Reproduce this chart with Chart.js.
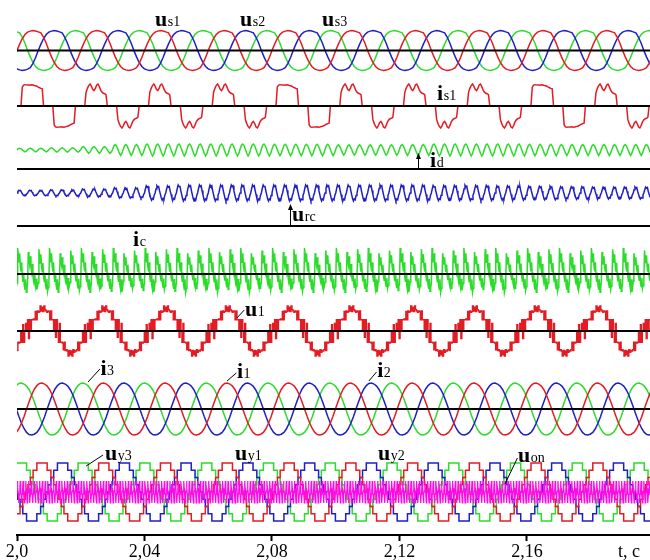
<!DOCTYPE html>
<html>
<head>
<meta charset="utf-8">
<script src="https://cdn.jsdelivr.net/npm/chart.js@4/dist/chart.umd.min.js"></script>
<style>
  html, body { margin: 0; padding: 0; background: #fff; }
</style>
</head>
<body>
<canvas id="osc" width="650" height="560"></canvas>
<script>
// ---- time axis, s ----
const T_START = 2.0;
const T_END = 2.1986;
const TICK_VALUES = [2.0, 2.04, 2.08, 2.12, 2.16, 2.192];
const TICK_LABELS = ['2,0', '2,04', '2,08', '2,12', '2,16', 't, c'];

// ---- frequencies, Hz ----
const F_SUPPLY = 50;
const F_OUTPUT = 51.6;
const F_RIPPLE = 300;
const F_PWM = 1150;

// rising zero of us1 and of the output phase 1, s
const SUPPLY_T0 = 2.0;
const OUTPUT_T0 = 2.003;

// supply voltage, one period from the rising zero, p.u.
const US_PERIOD = [0.00, 0.32, 0.60, 0.80, 0.92, 0.97, 1.00, 0.97, 0.93, 0.88, 0.66, 0.36,
                   0.00, -0.32, -0.60, -0.80, -0.92, -0.97, -1.00, -0.98, -0.93, -0.86, -0.64, -0.35];

// supply current, one half period (120 deg block), two top forms
const IS_PULSE_FLAT = [0, 0, 0, 0, 0.86, 0.95, 0.97, 0.96, 0.95, 0.95, 0.94, 0.96,
                       0.95, 0.93, 0.92, 0.90, 0.86, 0.83, 0.80, 0.78, 0, 0, 0, 0];
const IS_PULSE_M = [0, 0, 0, 0, 0.62, 0.80, 0.93, 1.00, 0.90, 0.76, 0.70, 0.80,
                    0.96, 1.00, 0.88, 0.72, 0.63, 0.58, 0.56, 0.52, 0, 0, 0, 0];
// top form of each half period: 0 flat, 1 double hump
const IS1_FORM = [0, 0, 1, 1, 1, 1, 1, 1, 0, 0, 1, 1, 1, 1, 1, 1, 0, 0, 1, 1, 1];

// dc link current and capacitor voltage ripple, one 300 Hz cycle
const ID_CYCLE = [0.15, 0.80, 1.00, 0.70, 0.10, -0.55, -1.00, -0.60];
const ID_ENV = [0.30, 0.35, 0.55, 0.90, 1, 1, 1, 1, 0.95, 0.95,
                0.85, 0.85, 0.90, 1, 1, 1, 0.95, 0.90, 0.90, 0.90];
const URC_CYCLE = [0.00, 0.55, 1.00, 0.80, 0.90, 0.30, -0.20, -0.70, -1.00, -0.75, -0.85, -0.30];
const URC_ENV = [0.35, 0.40, 0.50, 0.65, 0.90, 1, 1, 1, 1, 1,
                 1, 1, 1, 0.95, 0.95, 0.90, 0.85, 0.80, 0.75, 0.75];

// capacitor current, one 300 Hz cycle and spike heights over a supply period
const IC_CYCLE = [-0.35, 1.00, 0.70, 0.45, 0.80, 0.30, 0.10, 0.45, -0.10, -0.30, 0.05,
                  -0.45, -0.60, -0.20, -0.70, -0.55];
const IC_SPIKE = [1.00, 0.85, 0.95, 1.00, 0.80, 0.90];

// cell output voltage, one output period (held levels)
const U1_PERIOD = [0.00, 0.45, -0.30, 0.45, 0.00, 0.45, 0.45, 0.48, 0.45, 0.78, 0.45, 0.80,
                   0.75, 0.78, 1.00, 0.80, 0.95, 0.78, 1.00, 0.85, 0.80, 0.75, 0.80, 0.78,
                   0.45, 0.80, 0.45, 0.45, 0.00, 0.45, -0.25, 0.45,
                   0.00, -0.45, 0.30, -0.45, -0.45, -0.48, -0.75, -0.45, -0.78, -0.75, -0.80, -1.00,
                   -0.78, -0.95, -0.80, -1.00, -0.75, -0.85, -0.78, -0.80, -0.75, -0.45, -0.78, -0.45,
                   -0.48, -0.45, 0.00, -0.45, 0.25, -0.45, 0.00, 0.30];

// load current, one output period
const I_PERIOD = [0.00, 0.28, 0.55, 0.76, 0.90, 0.98, 1.00, 0.96, 0.88, 0.74, 0.54, 0.28,
                  0.00, -0.28, -0.54, -0.75, -0.90, -0.98, -1.00, -0.97, -0.90, -0.76, -0.55, -0.30];

// output phase voltage staircase: [angle, deg; level, p.u.]
const UY_STEPS = [[0, 0], [8, 0.25], [22, 0.5], [38, 0.75], [60, 1], [120, 0.75], [142, 0.5],
                  [158, 0.25], [172, 0], [188, -0.25], [202, -0.5], [218, -0.75], [240, -1],
                  [300, -0.75], [322, -0.5], [338, -0.25], [352, 0]];

// common mode voltage, one switching cycle
const UON_CYCLE = [0.10, 1.00, 0.35, -0.30, -1.00, -0.20];

// ---- trace placement (axis units) and colours ----
const TRACE = {
  us:  { base: 50.5, gain: 20 },
  is1: { base: 106, gain: 22 },
  id:  { base: 150, gain: 6 },
  urc: { base: 193, gain: 8 },
  ic:  { base: 274, gain: 26 },
  u1:  { base: 331, gain: 25 },
  i:   { base: 409, gain: 26 },
  uy:  { base: 492, gain: 29 },
  uon: { base: 492, gain: 11 }
};
const ZERO_LINES = [50.5, 106, 169, 226, 274, 331, 409];
const RED = '#e31b23', BLUE = '#1f1fc6', GREEN = '#2bdc2b', MAGENTA = '#ff0ae6';

const LABELS = [
  { main: 'u', sub: 's1', t: 2.0433, y: 26 },
  { main: 'u', sub: 's2', t: 2.0700, y: 26 },
  { main: 'u', sub: 's3', t: 2.0957, y: 26 },
  { main: 'i', sub: 's1', t: 2.1318, y: 100 },
  { main: 'i', sub: 'd', t: 2.1296, y: 167 },
  { main: 'u', sub: 'rc', t: 2.0863, y: 221 },
  { main: 'i', sub: 'c', t: 2.0364, y: 246 },
  { main: 'u', sub: '1', t: 2.0715, y: 316 },
  { main: 'i', sub: '3', t: 2.0262, y: 375 },
  { main: 'i', sub: '1', t: 2.0690, y: 378 },
  { main: 'i', sub: '2', t: 2.1130, y: 377 },
  { main: 'u', sub: 'y3', t: 2.0276, y: 460 },
  { main: 'u', sub: 'y1', t: 2.0684, y: 460 },
  { main: 'u', sub: 'y2', t: 2.1133, y: 460 },
  { main: 'u', sub: 'on', t: 2.1572, y: 462 }
];
const LEADERS = [
  [2.0260, 369, 2.0223, 382],
  [2.0688, 373, 2.0659, 381],
  [2.1128, 372, 2.1104, 381],
  [2.0713, 310, 2.0690, 318],
  [2.0270, 455, 2.0217, 466],
  [2.1570, 458, 2.1531, 484]
];
const ARROWS = [
  [2.1258, 169, 153],
  [2.0857, 226, 204]
];

// ---- series builders ----
function slot(arr, t) {
  const k = Math.floor((t - T_START) / 0.01);
  return arr[Math.max(0, Math.min(arr.length - 1, k))];
}

// repeat one sampled cycle over the time window
function tile(cycle, freq, t0, gain) {
  const n = cycle.length;
  const dt = 1 / (freq * n);
  const pts = [];
  for (let k = Math.floor((T_START - t0) / dt) - 1; t0 + k * dt <= T_END + dt; k++) {
    const t = t0 + k * dt;
    const i = ((k % n) + n) % n;
    const c = Math.floor(k / n);
    pts.push({ x: t, v: cycle[i] * (gain ? gain(t, c) : 1) });
  }
  return pts;
}

function supplyCurrent() {
  const half = 0.5 / F_SUPPLY;
  const pts = [];
  for (let h = -1; h < IS1_FORM.length; h++) {
    const form = IS1_FORM[Math.max(0, h)] ? IS_PULSE_M : IS_PULSE_FLAT;
    const sign = h % 2 === 0 ? 1 : -1;
    form.forEach((v, j) => pts.push({ x: SUPPLY_T0 + h * half + j * half / form.length, v: sign * v }));
  }
  return pts;
}

function stairs(steps, freq, t0) {
  const T = 1 / freq;
  const pts = [];
  for (let p = Math.floor((T_START - t0) / T) - 1; t0 + p * T <= T_END; p++) {
    steps.forEach(([deg, lvl]) => pts.push({ x: t0 + (p + deg / 360) * T, v: lvl }));
  }
  return pts;
}

function trace(points, tr, color, extra) {
  return Object.assign({
    data: points.map(p => ({ x: p.x, y: tr.base - tr.gain * p.v })),
    borderColor: color,
    borderWidth: 1.5,
    pointRadius: 0,
    fill: false,
    tension: 0
  }, extra || {});
}

const Ts = 1 / F_SUPPLY, To = 1 / F_OUTPUT;

const datasets = [];
ZERO_LINES.forEach(y => datasets.push({
  data: [{ x: T_START, y: y }, { x: T_END, y: y }],
  borderColor: '#000', borderWidth: 2, pointRadius: 0
}));

datasets.push(trace(tile(UON_CYCLE, F_PWM, T_START), TRACE.uon, MAGENTA, { borderWidth: 1.2 }));
datasets.push(trace(stairs(UY_STEPS, F_OUTPUT, OUTPUT_T0), TRACE.uy, RED, { stepped: true }));
datasets.push(trace(stairs(UY_STEPS, F_OUTPUT, OUTPUT_T0 + To / 3), TRACE.uy, BLUE, { stepped: true }));
datasets.push(trace(stairs(UY_STEPS, F_OUTPUT, OUTPUT_T0 + 2 * To / 3), TRACE.uy, GREEN, { stepped: true }));

datasets.push(trace(tile(I_PERIOD, F_OUTPUT, OUTPUT_T0), TRACE.i, RED));
datasets.push(trace(tile(I_PERIOD, F_OUTPUT, OUTPUT_T0 + To / 3), TRACE.i, BLUE));
datasets.push(trace(tile(I_PERIOD, F_OUTPUT, OUTPUT_T0 + 2 * To / 3), TRACE.i, GREEN));

datasets.push(trace(tile(U1_PERIOD, F_OUTPUT, OUTPUT_T0), TRACE.u1, RED, { borderWidth: 1.4, stepped: true }));
datasets.push(trace(tile(IC_CYCLE, F_RIPPLE, SUPPLY_T0, (t, c) => IC_SPIKE[((c % 6) + 6) % 6]),
  TRACE.ic, GREEN, { borderWidth: 1.5 }));
datasets.push(trace(tile(URC_CYCLE, F_RIPPLE, SUPPLY_T0, t => slot(URC_ENV, t)), TRACE.urc, BLUE));
datasets.push(trace(tile(ID_CYCLE, F_RIPPLE, SUPPLY_T0, t => slot(ID_ENV, t)), TRACE.id, GREEN));
datasets.push(trace(supplyCurrent(), TRACE.is1, RED));

datasets.push(trace(tile(US_PERIOD, F_SUPPLY, SUPPLY_T0), TRACE.us, RED));
datasets.push(trace(tile(US_PERIOD, F_SUPPLY, SUPPLY_T0 + Ts / 3), TRACE.us, BLUE));
datasets.push(trace(tile(US_PERIOD, F_SUPPLY, SUPPLY_T0 + 2 * Ts / 3), TRACE.us, GREEN));

// signal names, leader lines and arrows
const annotations = {
  id: 'annotations',
  afterDatasetsDraw(chart) {
    const { ctx, scales: { x, y } } = chart;
    ctx.save();
    ctx.strokeStyle = '#000';
    ctx.fillStyle = '#000';
    ctx.lineWidth = 1;
    LEADERS.forEach(([t1, y1, t2, y2]) => {
      ctx.beginPath();
      ctx.moveTo(x.getPixelForValue(t1), y.getPixelForValue(y1));
      ctx.lineTo(x.getPixelForValue(t2), y.getPixelForValue(y2));
      ctx.stroke();
    });
    ARROWS.forEach(([t, y0, y1]) => {
      const px = Math.round(x.getPixelForValue(t)) + 0.5;
      const p0 = y.getPixelForValue(y0), p1 = y.getPixelForValue(y1);
      ctx.beginPath();
      ctx.moveTo(px, p0);
      ctx.lineTo(px, p1 + 4);
      ctx.stroke();
      ctx.beginPath();
      ctx.moveTo(px, p1);
      ctx.lineTo(px - 2.5, p1 + 6);
      ctx.lineTo(px + 2.5, p1 + 6);
      ctx.closePath();
      ctx.fill();
    });
    ctx.textBaseline = 'alphabetic';
    ctx.textAlign = 'left';
    LABELS.forEach(l => {
      const px = x.getPixelForValue(l.t), py = y.getPixelForValue(l.y);
      ctx.font = 'bold 22px "Liberation Serif"';
      ctx.fillText(l.main, px, py);
      const w = ctx.measureText(l.main).width;
      ctx.font = '14px "Liberation Serif"';
      ctx.fillText(l.sub, px + w + 0.5, py);
    });
    ctx.restore();
  }
};

new Chart(document.getElementById('osc'), {
  type: 'line',
  data: { datasets },
  options: {
    responsive: false,
    animation: false,
    events: [],
    layout: { padding: { left: 17, right: 0, top: 0, bottom: 0 } },
    plugins: { legend: { display: false }, tooltip: { enabled: false } },
    scales: {
      x: {
        type: 'linear',
        min: T_START,
        max: T_END,
        afterBuildTicks: s => { s.ticks = TICK_VALUES.map(v => ({ value: v })); },
        afterFit: s => { s.height = 25; },
        ticks: {
          autoSkip: false,
          maxRotation: 0,
          padding: 0,
          color: '#000',
          font: { family: '"Liberation Serif"', size: 18 },
          callback: (v, i) => TICK_LABELS[i]
        },
        grid: {
          drawOnChartArea: false,
          drawTicks: true,
          tickLength: 6,
          tickWidth: 2,
          tickColor: c => (c.tick && c.tick.value > 2.17 ? 'rgba(0,0,0,0)' : '#000')
        },
        border: { display: true, color: '#000', width: 2 }
      },
      y: { display: false, reverse: true, min: 0, max: 535 }
    }
  },
  plugins: [annotations]
});
</script>
</body>
</html>
